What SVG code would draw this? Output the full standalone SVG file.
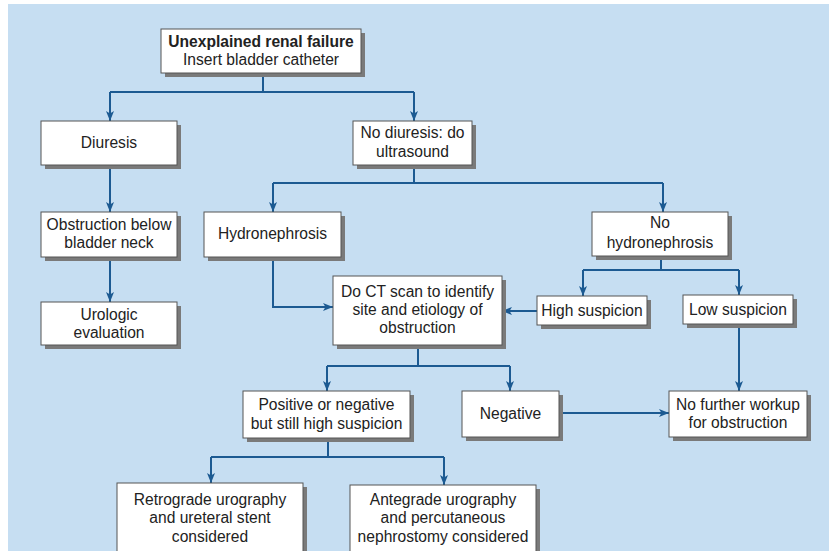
<svg xmlns="http://www.w3.org/2000/svg" width="829" height="551" viewBox="0 0 829 551">
<defs>
<marker id="ah" viewBox="0 0 10 8" refX="10" refY="4" markerWidth="10" markerHeight="8" orient="auto" markerUnits="userSpaceOnUse">
<path d="M0,0 L10,4 L0,8 L2.5,4 z" fill="#1c5a92"/>
</marker>
</defs>
<style>
.bx{fill:#ffffff;stroke:#555555;stroke-width:1}
.sh{fill:#7a7a7a}
.t{font-family:"Liberation Sans",Arial,sans-serif;font-size:15.6px;fill:#222222;text-anchor:middle}
.b{font-weight:bold}
.c{fill:none;stroke:#1c5a92;stroke-width:2}
.ca{fill:none;stroke:#1c5a92;stroke-width:2;marker-end:url(#ah)}
</style>
<rect x="0" y="0" width="829" height="551" fill="#ffffff"/>
<rect x="8" y="4" width="821" height="547" fill="#c6def2"/>

<g id="connectors">
<path class="c" d="M263,73 V92 M110,92 H414"/>
<path class="ca" d="M110,92 V121"/>
<path class="ca" d="M414,92 V121"/>
<path class="ca" d="M110,165 V212"/>
<path class="ca" d="M110,257 V302"/>
<path class="c" d="M414,165 V183 M273,183 H663"/>
<path class="ca" d="M273,183 V212"/>
<path class="ca" d="M663,183 V212"/>
<path class="ca" d="M273,257 V307 H333"/>
<path class="c" d="M661,256 V270 M583,270 H739"/>
<path class="ca" d="M583,270 V296"/>
<path class="ca" d="M739,270 V295"/>
<path class="ca" d="M537,311 H502"/>
<path class="ca" d="M739,324 V391"/>
<path class="c" d="M418,345 V366 M327,366 H510"/>
<path class="ca" d="M327,366 V391"/>
<path class="ca" d="M510,366 V391"/>
<path class="ca" d="M559,413 H669"/>
<path class="c" d="M328,438 V457 M211,457 H444"/>
<path class="ca" d="M211,457 V483"/>
<path class="ca" d="M444,457 V485"/>
</g>

<g id="start">
<rect class="sh" x="165" y="33" width="200" height="44"/>
<rect class="bx" x="161" y="29" width="200" height="44"/>
<text class="t b" x="261" y="47">Unexplained renal failure</text>
<text class="t" x="261" y="65">Insert bladder catheter</text>
</g>

<g id="diuresis">
<rect class="sh" x="45" y="125" width="136" height="44"/>
<rect class="bx" x="41" y="121" width="136" height="44"/>
<text class="t" x="109" y="148">Diuresis</text>
</g>

<g id="nodiuresis">
<rect class="sh" x="357" y="125" width="119" height="44"/>
<rect class="bx" x="353" y="121" width="119" height="44"/>
<text class="t" x="412.5" y="138">No diuresis: do</text>
<text class="t" x="412.5" y="157">ultrasound</text>
</g>

<g id="obstruction">
<rect class="sh" x="45" y="216" width="136" height="45"/>
<rect class="bx" x="41" y="212" width="136" height="45"/>
<text class="t" x="109" y="230">Obstruction below</text>
<text class="t" x="109" y="248">bladder neck</text>
</g>

<g id="urologic">
<rect class="sh" x="45" y="306" width="136" height="43"/>
<rect class="bx" x="41" y="302" width="136" height="43"/>
<text class="t" x="109" y="320">Urologic</text>
<text class="t" x="109" y="338">evaluation</text>
</g>

<g id="hydronephrosis">
<rect class="sh" x="208" y="216" width="137" height="45"/>
<rect class="bx" x="204" y="212" width="137" height="45"/>
<text class="t" x="272.5" y="239">Hydronephrosis</text>
</g>

<g id="nohydro">
<rect class="sh" x="596" y="216" width="136" height="44"/>
<rect class="bx" x="592" y="212" width="136" height="44"/>
<text class="t" x="660" y="228">No</text>
<text class="t" x="660" y="248">hydronephrosis</text>
</g>

<g id="ctscan">
<rect class="sh" x="337" y="280" width="169" height="69"/>
<rect class="bx" x="333" y="276" width="169" height="69"/>
<text class="t" x="417.5" y="297">Do CT scan to identify</text>
<text class="t" x="417.5" y="315">site and etiology of</text>
<text class="t" x="417.5" y="333">obstruction</text>
</g>

<g id="highsusp">
<rect class="sh" x="541" y="300" width="110" height="29"/>
<rect class="bx" x="537" y="296" width="110" height="29"/>
<text class="t" x="592" y="316">High suspicion</text>
</g>

<g id="lowsusp">
<rect class="sh" x="687" y="299" width="110" height="29"/>
<rect class="bx" x="683" y="295" width="110" height="29"/>
<text class="t" x="738" y="315">Low suspicion</text>
</g>

<g id="positive">
<rect class="sh" x="247" y="395" width="167" height="47"/>
<rect class="bx" x="243" y="391" width="167" height="47"/>
<text class="t" x="326.5" y="410">Positive or negative</text>
<text class="t" x="326.5" y="429">but still high suspicion</text>
</g>

<g id="negative">
<rect class="sh" x="466" y="395" width="97" height="46"/>
<rect class="bx" x="462" y="391" width="97" height="46"/>
<text class="t" x="510.5" y="419">Negative</text>
</g>

<g id="nofurther">
<rect class="sh" x="673" y="395" width="138" height="46"/>
<rect class="bx" x="669" y="391" width="138" height="46"/>
<text class="t" x="738" y="410">No further workup</text>
<text class="t" x="738" y="428">for obstruction</text>
</g>

<g id="retrograde">
<rect class="sh" x="121" y="487" width="186" height="80"/>
<rect class="bx" x="117" y="483" width="186" height="80"/>
<text class="t" x="210" y="505">Retrograde urography</text>
<text class="t" x="210" y="523">and ureteral stent</text>
<text class="t" x="210" y="542">considered</text>
</g>

<g id="antegrade">
<rect class="sh" x="354" y="489" width="186" height="80"/>
<rect class="bx" x="350" y="485" width="186" height="80"/>
<text class="t" x="443" y="505">Antegrade urography</text>
<text class="t" x="443" y="523">and percutaneous</text>
<text class="t" x="443" y="542">nephrostomy considered</text>
</g>
</svg>
